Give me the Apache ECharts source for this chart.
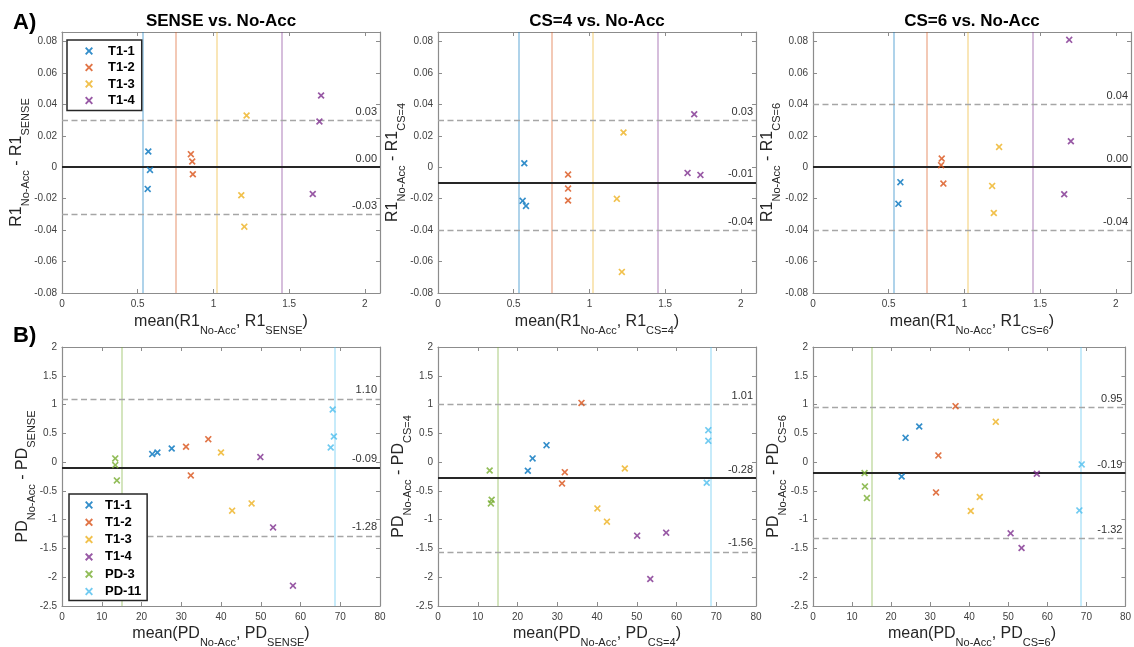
<!DOCTYPE html>
<html><head><meta charset="utf-8">
<script src="https://cdn.jsdelivr.net/npm/echarts@6/dist/echarts.min.js"></script>
<style>html,body{margin:0;padding:0;background:#fff}#c{width:1134px;height:647px}</style>
</head><body><div id="c"></div>
<script>
// ---------------- data ----------------
const groupNames = ['T1-1', 'T1-2', 'T1-3', 'T1-4', 'PD-3', 'PD-11'];
const groupColors = ['#0072BD', '#D95319', '#EDB120', '#7E2F8E', '#77AC30', '#4DBEEE'];
const panelTitles = ['SENSE vs. No-Acc', 'CS=4 vs. No-Acc', 'CS=6 vs. No-Acc'];
const accNames = ['SENSE', 'CS=4', 'CS=6'];
const rowTags = ['A)', 'B)'];

// R1: [mean, difference] per group (T1-1..T1-4)
const r1Sense = [
  [[0.570, 0.0100], [0.581, -0.0017], [0.566, -0.0138]],
  [[0.851, 0.0083], [0.860, 0.0036], [0.864, -0.0045]],
  [[1.219, 0.0329], [1.184, -0.0178], [1.204, -0.0378]],
  [[1.711, 0.0456], [1.700, 0.0291], [1.656, -0.0170]]
];
const r1Cs4 = [
  [[0.570, 0.0025], [0.559, -0.0214], [0.581, -0.0246]],
  [[0.859, -0.0047], [0.859, -0.0136], [0.859, -0.0212]],
  [[1.225, 0.0221], [1.181, -0.0201], [1.214, -0.0666]],
  [[1.692, 0.0337], [1.648, -0.0036], [1.733, -0.0049]]
];
const r1Cs6 = [
  [[0.577, -0.0095], [0.564, -0.0233]],
  [[0.850, 0.0055], [0.846, 0.0013], [0.861, -0.0104]],
  [[1.229, 0.0129], [1.183, -0.0119], [1.194, -0.0291]],
  [[1.692, 0.0810], [1.703, 0.0165], [1.659, -0.0172]]
];
// PD: [mean, difference] per group (T1-1..T1-4, PD-3, PD-11)
const pdSense = [
  [[22.7, 0.139], [24.0, 0.168], [27.6, 0.237]],
  [[31.2, 0.266], [36.8, 0.399], [32.4, -0.231]],
  [[40.0, 0.168], [42.8, -0.843], [47.7, -0.717]],
  [[49.9, 0.087], [53.1, -1.134], [58.1, -2.146]],
  [[13.4, 0.064], [13.4, -0.052], [13.8, -0.318]],
  [[68.1, 0.914], [68.4, 0.445], [67.6, 0.254]]
];
const pdCs4 = [
  [[22.6, -0.150], [23.8, 0.064], [27.3, 0.295]],
  [[36.1, 1.029], [31.9, -0.174], [31.2, -0.370]],
  [[47.0, -0.110], [40.1, -0.804], [42.5, -1.035]],
  [[50.1, -1.278], [57.4, -1.226], [53.4, -2.030]],
  [[13.0, -0.145], [13.5, -0.654], [13.3, -0.717]],
  [[68.0, 0.555], [68.0, 0.370], [67.6, -0.359]]
];
const pdCs6 = [
  [[23.7, 0.422], [27.2, 0.619], [22.7, -0.249]],
  [[36.5, 0.972], [32.1, 0.116], [31.5, -0.526]],
  [[46.8, 0.700], [42.7, -0.607], [40.4, -0.850]],
  [[57.3, -0.202], [50.6, -1.238], [53.4, -1.492]],
  [[13.2, -0.191], [13.3, -0.422], [13.8, -0.625]],
  [[68.8, -0.040], [68.2, -0.839]]
];

// reference (true value) vertical lines
const r1RefX = [0.53, 0.75, 1.02, 1.45];       // T1-1..T1-4
const pdRefX = [15.1, 68.6];                     // PD-3, PD-11
const r1RefGroups = [0, 1, 2, 3];
const pdRefGroups = [4, 5];

// bias and limits of agreement
const r1Bias = [0.0019, -0.0053, 0.0004];
const r1Upper = [0.0344, 0.0307, 0.0397];
const r1Lower = [-0.0310, -0.0352, -0.0394];
const pdBias = [-0.09, -0.28, -0.19];
const pdUpper = [1.10, 1.01, 0.95];
const pdLower = [-1.28, -1.56, -1.32];

// axis ranges
const r1X = {min: 0, max: 2.1, interval: 0.5};
const r1Y = {min: -0.08, max: 0.086, interval: 0.02};
const pdX = {min: 0, max: 80, interval: 10};
const pdY = {min: -2.5, max: 2, interval: 0.5};

// ---------------- layout/style ----------------
const FONT = '"Liberation Sans", Arial, Helvetica, sans-serif';
const XPATH = 'path://M0,1.7L1.7,0L5,3.3L8.3,0L10,1.7L6.7,5L10,8.3L8.3,10L5,6.7L1.7,10L0,8.3L3.3,5Z';
const gridLeft = [62, 438, 813];
const gridW = 318;
const rowsLayout = [
  {top: 32, h: 261, xNameY: 322, yNameGap: 45},
  {top: 347, h: 259, xNameY: 634, yNameGap: 39}
];
const AX = '#8c8c8c';

const rowsData = [
  {panels: [r1Sense, r1Cs4, r1Cs6], xr: r1X, yr: r1Y, refX: r1RefX, refG: r1RefGroups,
   bias: r1Bias, up: r1Upper, lo: r1Lower, q: 'R1', xMaxLabel: false, yMaxLabel: false},
  {panels: [pdSense, pdCs4, pdCs6], xr: pdX, yr: pdY, refX: pdRefX, refG: pdRefGroups,
   bias: pdBias, up: pdUpper, lo: pdLower, q: 'PD', xMaxLabel: true, yMaxLabel: true}
];

const grid = [], xAxis = [], yAxis = [], series = [], graphic = [];

const mctx = document.createElement('canvas').getContext('2d');
function textW(t, size) { mctx.font = size + 'px ' + FONT; return mctx.measureText(t).width; }
// label with subscripts: parts = [[text, isSub], ...]
function subLabel(parts, cx, cy, rot) {
  const MAIN = 16, SUB = 11, OFF = 8.5;
  const ws = parts.map(p => textW(p[0], p[1] ? SUB : MAIN));
  const total = ws.reduce((a, b) => a + b, 0);
  let x = -total / 2;
  const children = parts.map((p, i) => {
    const el = {type: 'text', x: x, y: p[1] ? OFF : 0, silent: true,
      style: {text: p[0], font: (p[1] ? SUB : MAIN) + 'px ' + FONT, fill: '#262626',
        textAlign: 'left', align: 'left', textVerticalAlign: 'middle', verticalAlign: 'middle'}};
    x += ws[i];
    return el;
  });
  return {type: 'group', x: cx, y: cy, rotation: rot, children};
}

function baseAxis(extra) {
  return Object.assign({
    type: 'value',
    axisLine: {show: true, onZero: false, lineStyle: {color: AX, width: 1.2}},
    axisTick: {show: true, inside: true, length: 4, lineStyle: {color: AX, width: 1}},
    splitLine: {show: false},
    axisLabel: {color: '#404040', fontSize: 10, fontFamily: FONT, margin: 5}
  }, extra);
}

rowsData.forEach((row, r) => {
  const L = rowsLayout[r];
  for (let c = 0; c < 3; c++) {
    const gi = r * 3 + c;
    grid.push({left: gridLeft[c], top: L.top, width: gridW, height: L.h, containLabel: false});
    const acc = accNames[c];
    xAxis.push(baseAxis({
      gridIndex: gi, position: 'bottom', min: row.xr.min, max: row.xr.max, interval: row.xr.interval,
      axisLabel: {color: '#404040', fontSize: 10, fontFamily: FONT, margin: 6, showMaxLabel: row.xMaxLabel}
    }));
    xAxis.push(baseAxis({
      gridIndex: gi, position: 'top', min: row.xr.min, max: row.xr.max, interval: row.xr.interval,
      axisLabel: {show: false}
    }));
    yAxis.push(baseAxis({
      gridIndex: gi, position: 'left', min: row.yr.min, max: row.yr.max, interval: row.yr.interval,
      axisLabel: {color: '#404040', fontSize: 10, fontFamily: FONT, margin: 5, showMaxLabel: row.yMaxLabel}
    }));
    yAxis.push(baseAxis({
      gridIndex: gi, position: 'right', min: row.yr.min, max: row.yr.max, interval: row.yr.interval,
      axisLabel: {show: false}
    }));

    // axis titles with subscripts
    graphic.push(subLabel([['mean(' + row.q, 0], ['No-Acc', 1], [', ' + row.q, 0], [acc, 1], [')', 0]],
      gridLeft[c] + gridW / 2, L.xNameY, 0));
    graphic.push(subLabel([[row.q, 0], ['No-Acc', 1], [' - ' + row.q, 0], [acc, 1]],
      gridLeft[c] - L.yNameGap, L.top + L.h / 2, Math.PI / 2));

    // reference lines
    const ml = [];
    row.refX.forEach((v, k) => {
      ml.push({xAxis: v, lineStyle: {color: groupColors[row.refG[k]], width: 1.5, type: 'solid', opacity: 0.42}, label: {show: false}});
    });
    const hl = (v, isMean) => ({
      yAxis: v,
      lineStyle: isMean ? {color: '#262626', width: 2, type: 'solid'} : {color: '#a6a6a6', width: 1.3, type: [6, 3.5]},
      label: {show: true, position: 'insideEndTop', formatter: v.toFixed(2), color: '#333', fontSize: 11, fontFamily: FONT, distance: 3}
    });
    ml.push(hl(row.up[c], false), hl(row.lo[c], false), hl(row.bias[c], true));
    series.push({
      type: 'scatter', name: 'ref', xAxisIndex: gi * 2, yAxisIndex: gi * 2, data: [], silent: true, z: 1,
      markLine: {symbol: ['none', 'none'], silent: true, animation: false, data: ml}
    });

    // points
    row.panels[c].forEach((pts, g) => {
      series.push({
        type: 'scatter', name: groupNames[g], xAxisIndex: gi * 2, yAxisIndex: gi * 2,
        data: pts, symbol: XPATH, symbolSize: 7, itemStyle: {color: groupColors[g]}, z: 5
      });
    });

    if (r === 0) {
      graphic.push({type: 'text', x: gridLeft[c] + gridW / 2, y: 21.5, z: 10,
        style: {text: panelTitles[c], font: 'bold 17px ' + FONT, fill: '#000',
          textAlign: 'center', align: 'center', textVerticalAlign: 'middle', verticalAlign: 'middle'}});
    }
  }
});

graphic.push({type: 'text', x: 13, y: 23, style: {text: rowTags[0], font: 'bold 22px ' + FONT, fill: '#000', textAlign: 'left', align: 'left', textVerticalAlign: 'middle', verticalAlign: 'middle'}});
graphic.push({type: 'text', x: 13, y: 336, style: {text: rowTags[1], font: 'bold 22px ' + FONT, fill: '#000', textAlign: 'left', align: 'left', textVerticalAlign: 'middle', verticalAlign: 'middle'}});

const legendBase = {
  orient: 'vertical', selectedMode: false, backgroundColor: '#fff', borderColor: '#262626', borderWidth: 1.5,
  itemWidth: 8, itemHeight: 8, z: 20
};
const legend = [
  Object.assign({}, legendBase, {data: groupNames.slice(0, 4), left: 67, top: 40, padding: [4, 7, 3, 18], itemGap: 2.5,
    textStyle: {fontSize: 13, fontWeight: 'bold', color: '#000', fontFamily: FONT, lineHeight: 14, padding: [0, 0, 0, 10]}}),
  Object.assign({}, legendBase, {data: groupNames.slice(), left: 69, top: 494, padding: [4, 6, 2, 16], itemGap: 3.3,
    textStyle: {fontSize: 13, fontWeight: 'bold', color: '#000', fontFamily: FONT, lineHeight: 14, padding: [0, 0, 0, 7]}})
];

const chart = echarts.init(document.getElementById('c'), null, {renderer: 'canvas'});
chart.setOption({
  animation: false,
  backgroundColor: '#fff',
  grid, xAxis, yAxis, series, legend, graphic
});
</script></body></html>
